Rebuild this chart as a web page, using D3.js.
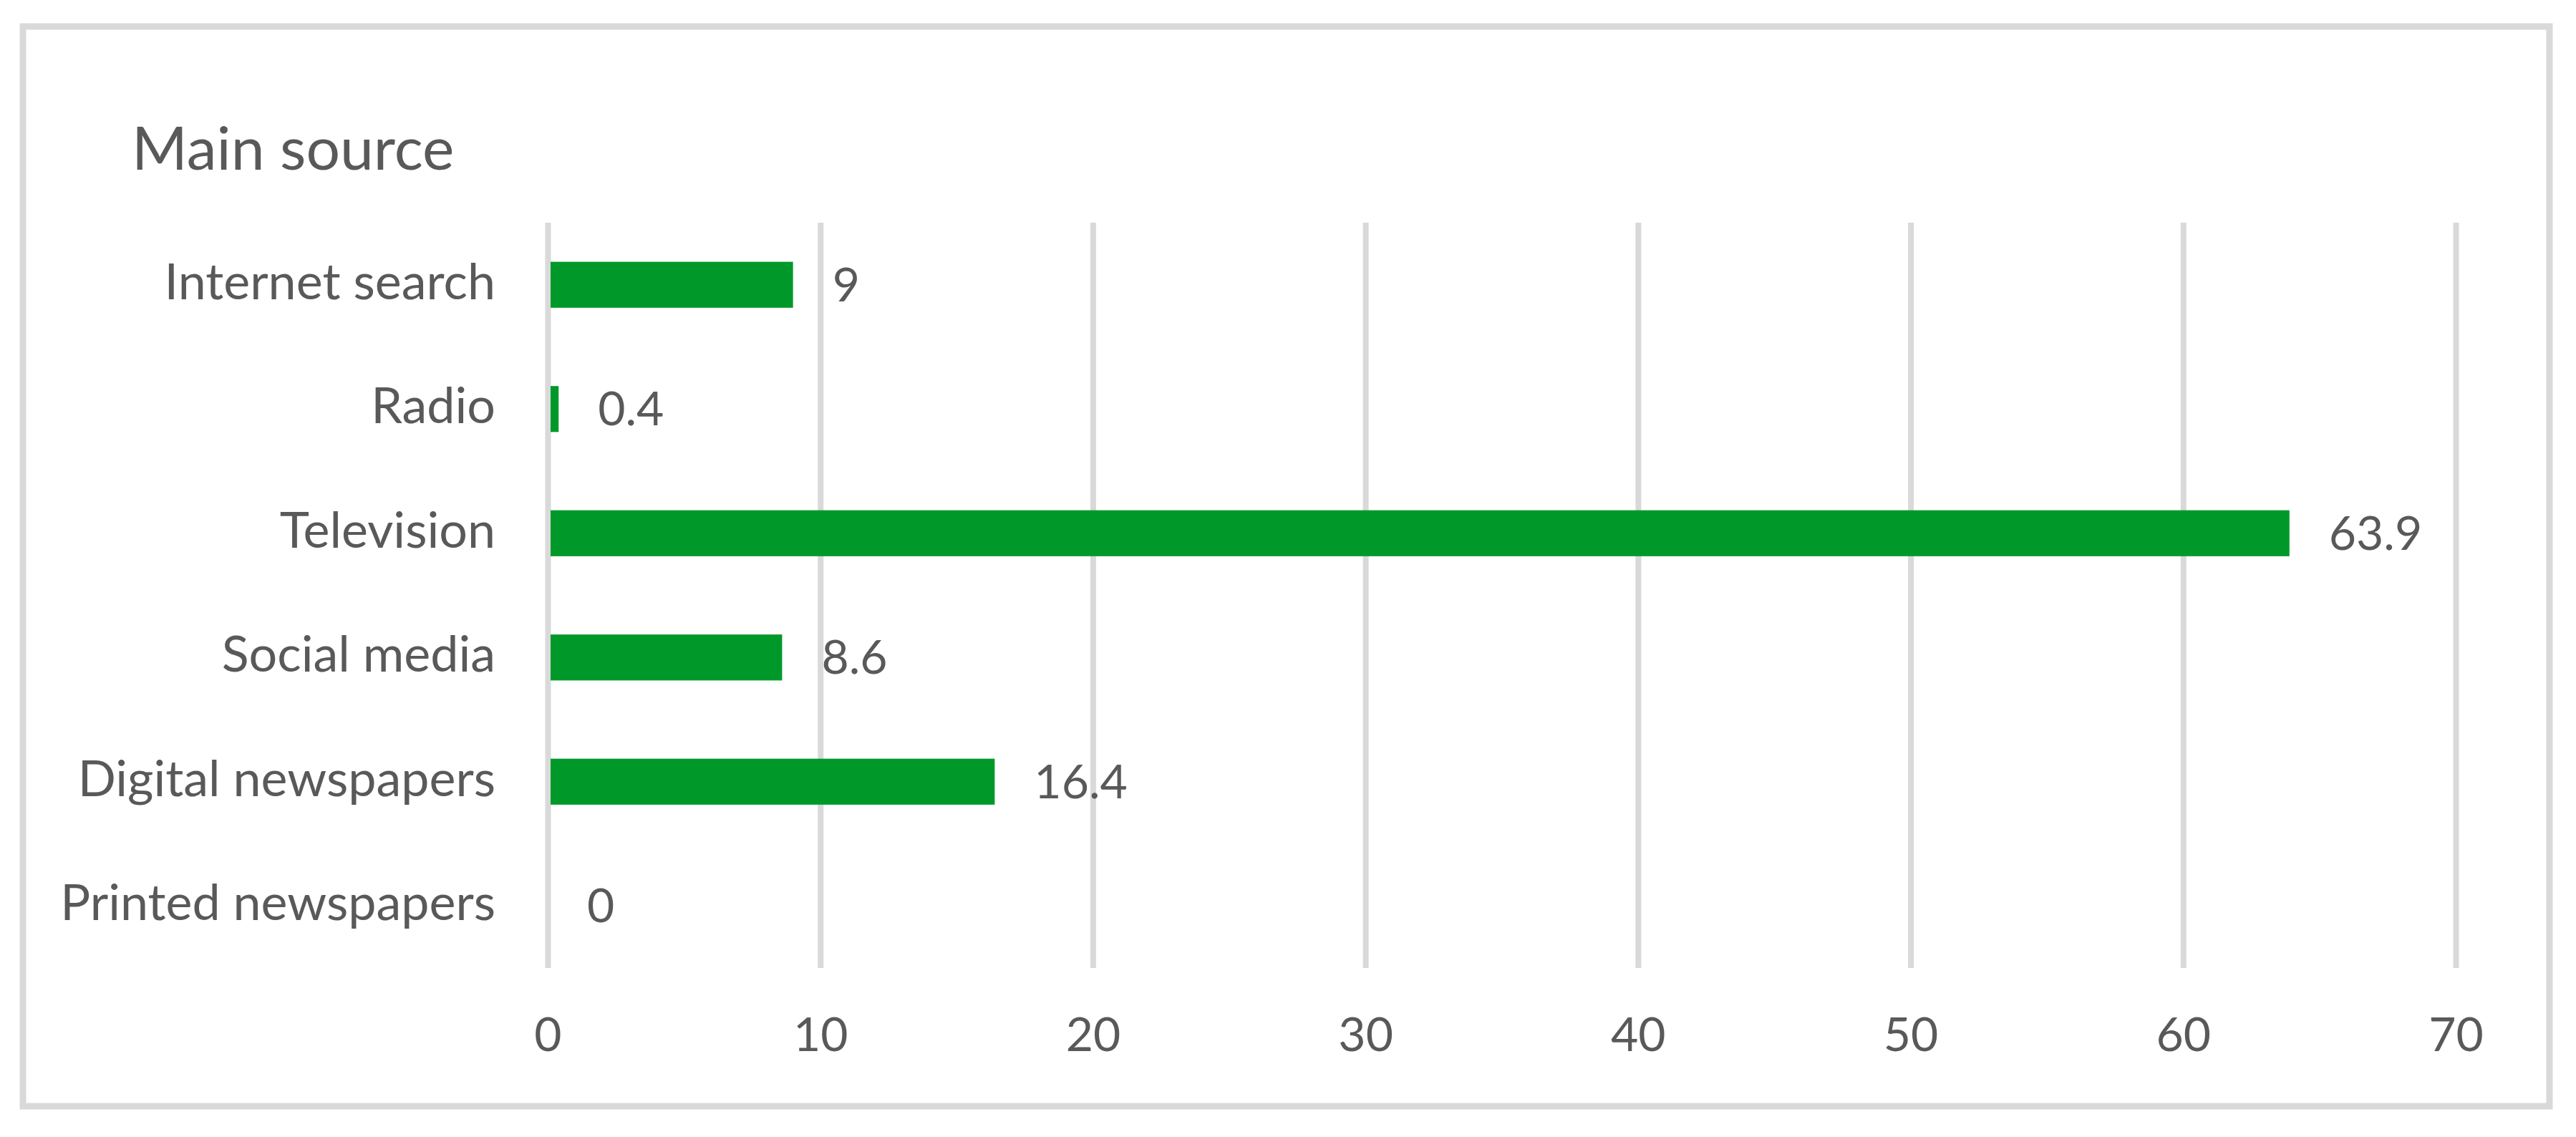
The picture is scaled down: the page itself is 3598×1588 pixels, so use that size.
<!DOCTYPE html>
<html>
<head>
<meta charset="utf-8">
<script src="https://cdn.jsdelivr.net/npm/d3@7"></script>
<style>
  html, body { margin: 0; padding: 0; background: #ffffff; }
  svg { display: block; }
</style>
</head>
<body>
<script>
// ---- data ----
const categories = ["Internet search", "Radio", "Television", "Social media", "Digital newspapers", "Printed newspapers"];
const values = [9, 0.4, 63.9, 8.6, 16.4, 0];
const xTicks = [0, 10, 20, 30, 40, 50, 60, 70];
const title = "Main source";

// ---- layout ----
const W = 3598, H = 1588;
const plot = { left: 765, right: 3430, top: 311, bottom: 1352 };
const textColor = "#595959";
const gridColor = "#d9d9d9";
const barColor = "#009929";
const font = "Lato, 'Open Sans', sans-serif";

const svg = d3.select("body").append("svg")
  .attr("width", W).attr("height", H)
  .attr("viewBox", `0 0 ${W} ${H}`);

svg.append("rect").attr("width", W).attr("height", H).attr("fill", "#fff");

// outer frame
svg.append("rect")
  .attr("x", 32).attr("y", 37)
  .attr("width", 3529).attr("height", 1508)
  .attr("fill", "none")
  .attr("stroke", gridColor)
  .attr("stroke-width", 9);

const x = d3.scaleLinear().domain([0, 70]).range([plot.left, plot.right]);
const y = d3.scaleBand().domain(categories).range([plot.top, plot.bottom])
  .paddingInner(0.63).paddingOuter(0.315);

// gridlines via axis
const grid = svg.append("g")
  .attr("transform", `translate(0,${plot.bottom})`)
  .call(d3.axisBottom(x).tickValues(xTicks).tickSize(-(plot.bottom - plot.top)).tickFormat(""));
grid.select(".domain").remove();
grid.selectAll(".tick line").attr("stroke", gridColor).attr("stroke-width", 8);

// x tick labels
const xAxis = svg.append("g")
  .attr("transform", `translate(0,${plot.bottom})`)
  .call(d3.axisBottom(x).tickValues(xTicks).tickSize(0).tickPadding(0).tickFormat(d3.format("d")));
xAxis.select(".domain").remove();
xAxis.selectAll(".tick text")
  .attr("y", 116).attr("dy", null)
  .attr("fill", textColor)
  .style("font-family", font).style("font-size", "66px");

// y category labels
const yAxis = svg.append("g")
  .attr("transform", `translate(${plot.left},0)`)
  .call(d3.axisLeft(y).tickSize(0).tickPadding(0));
yAxis.select(".domain").remove();
yAxis.selectAll(".tick text")
  .attr("x", -73).attr("dy", null).attr("y", 20)
  .attr("text-anchor", "end")
  .attr("fill", textColor)
  .style("font-family", font).style("font-size", "70px");

// bars
svg.append("g").selectAll("rect")
  .data(categories)
  .join("rect")
  .attr("x", x(0) + 4)
  .attr("y", d => y(d))
  .attr("width", (d, i) => Math.max(0, x(values[i]) - x(0) - 4))
  .attr("height", y.bandwidth())
  .attr("fill", barColor);

// value labels
svg.append("g").selectAll("text")
  .data(categories)
  .join("text")
  .attr("x", (d, i) => x(values[i]) + 55)
  .attr("y", d => y(d) + y.bandwidth() / 2 + 23)
  .attr("fill", textColor)
  .style("font-family", font).style("font-size", "66px")
  .text((d, i) => values[i]);

// title
svg.append("text")
  .attr("x", 184).attr("y", 237)
  .attr("fill", textColor)
  .style("font-family", font).style("font-size", "84px")
  .text(title);
</script>
</body>
</html>
